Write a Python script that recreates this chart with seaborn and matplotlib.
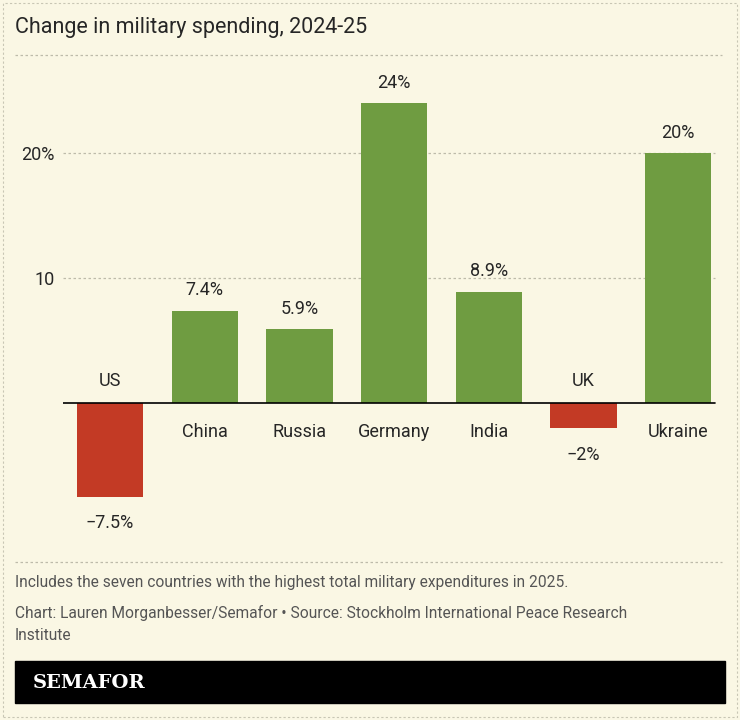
import matplotlib
matplotlib.use("Agg")
import matplotlib.pyplot as plt
import seaborn as sns
import pandas as pd

countries = ["US", "China", "Russia", "Germany", "India", "UK", "Ukraine"]
change = [-7.5, 7.4, 5.9, 24, 8.9, -2, 20]
labels = ["\u22127.5%", "7.4%", "5.9%", "24%", "8.9%", "\u22122%", "20%"]
yticks = [10, 20]
ytick_labels = ["10", "20%"]

bg = "#FAF7E4"
green = "#6F9C41"
red = "#C33A25"
sns.set_style("white")
plt.rcParams["font.family"] = ["Roboto", "DejaVu Sans"]

df = pd.DataFrame({"country": countries, "change": change})
df["color"] = [green if v > 0 else red for v in change]

fig = plt.figure(figsize=(7.4, 7.2), dpi=100, facecolor=bg)
ax = fig.add_axes([62.7 / 740, 1 - 562 / 720, 662.7 / 740, 507 / 720], facecolor=bg)
sns.barplot(data=df, x="country", y="change", hue="country",
            palette=dict(zip(df.country, df.color)), width=0.70,
            legend=False, ax=ax, saturation=1, linewidth=0)
ax.set_xlim(-0.5, 6.5)
ax.set_ylim(-12.72, 27.84)
for s in ax.spines.values():
    s.set_visible(False)
ax.set_xticks([])
ax.set_yticks(yticks)
ax.set_yticklabels(ytick_labels, fontsize=13)
ax.tick_params(axis="y", length=0, pad=6)
ax.set_xlabel("")
ax.set_ylabel("")
for y in yticks:
    ax.axhline(y, xmax=0.985, color="#bdbbaa", lw=0.9, ls=(0, (2, 2)), zorder=0)
ax.axhline(0, xmax=0.985, color="black", lw=1.2, zorder=3)

for i, (v, lab, c) in enumerate(zip(change, labels, countries)):
    if v > 0:
        ax.text(i, v + 0.9, lab, ha="center", va="bottom", fontsize=13)
        ax.text(i, -1.6, c, ha="center", va="top", fontsize=13)
    else:
        ax.text(i, v - 1.4, lab, ha="center", va="top", fontsize=13)
        ax.text(i, 1.0, c, ha="center", va="bottom", fontsize=13)

def fy(py):
    return 1 - py / 720

fig.text(15 / 740, fy(28), "Change in military spending, 2024-25", fontsize=15.5, va="center")
for py in (55, 562):
    fig.add_artist(plt.Line2D([15 / 740, 722 / 740], [fy(py), fy(py)],
                              color="#bdbbaa", lw=0.9, ls=(0, (2, 2))))
fig.text(15 / 740, fy(583), "Includes the seven countries with the highest total military expenditures in 2025.",
         fontsize=11.2, color="#555555", va="center")
fig.text(15 / 740, fy(613), "Chart: Lauren Morganbesser/Semafor \u2022 Source: Stockholm International Peace Research",
         fontsize=11.2, color="#555555", va="center")
fig.text(15 / 740, fy(636), "Institute", fontsize=11.2, color="#555555", va="center")
fig.add_artist(plt.Rectangle((15 / 740, fy(703)), 710 / 740, 42 / 720, color="black"))
fig.text(33 / 740, fy(683), "SEMAFOR", fontsize=14, color="white", fontweight="bold",
         family="DejaVu Serif", va="center")
fig.add_artist(plt.Rectangle((3 / 740, 3 / 720), 734 / 740, 714 / 720, fill=False,
                             ec="#c8c6b4", lw=0.8, ls=(0, (2, 2))))

fig.savefig("out.png", dpi=100, facecolor=bg)
